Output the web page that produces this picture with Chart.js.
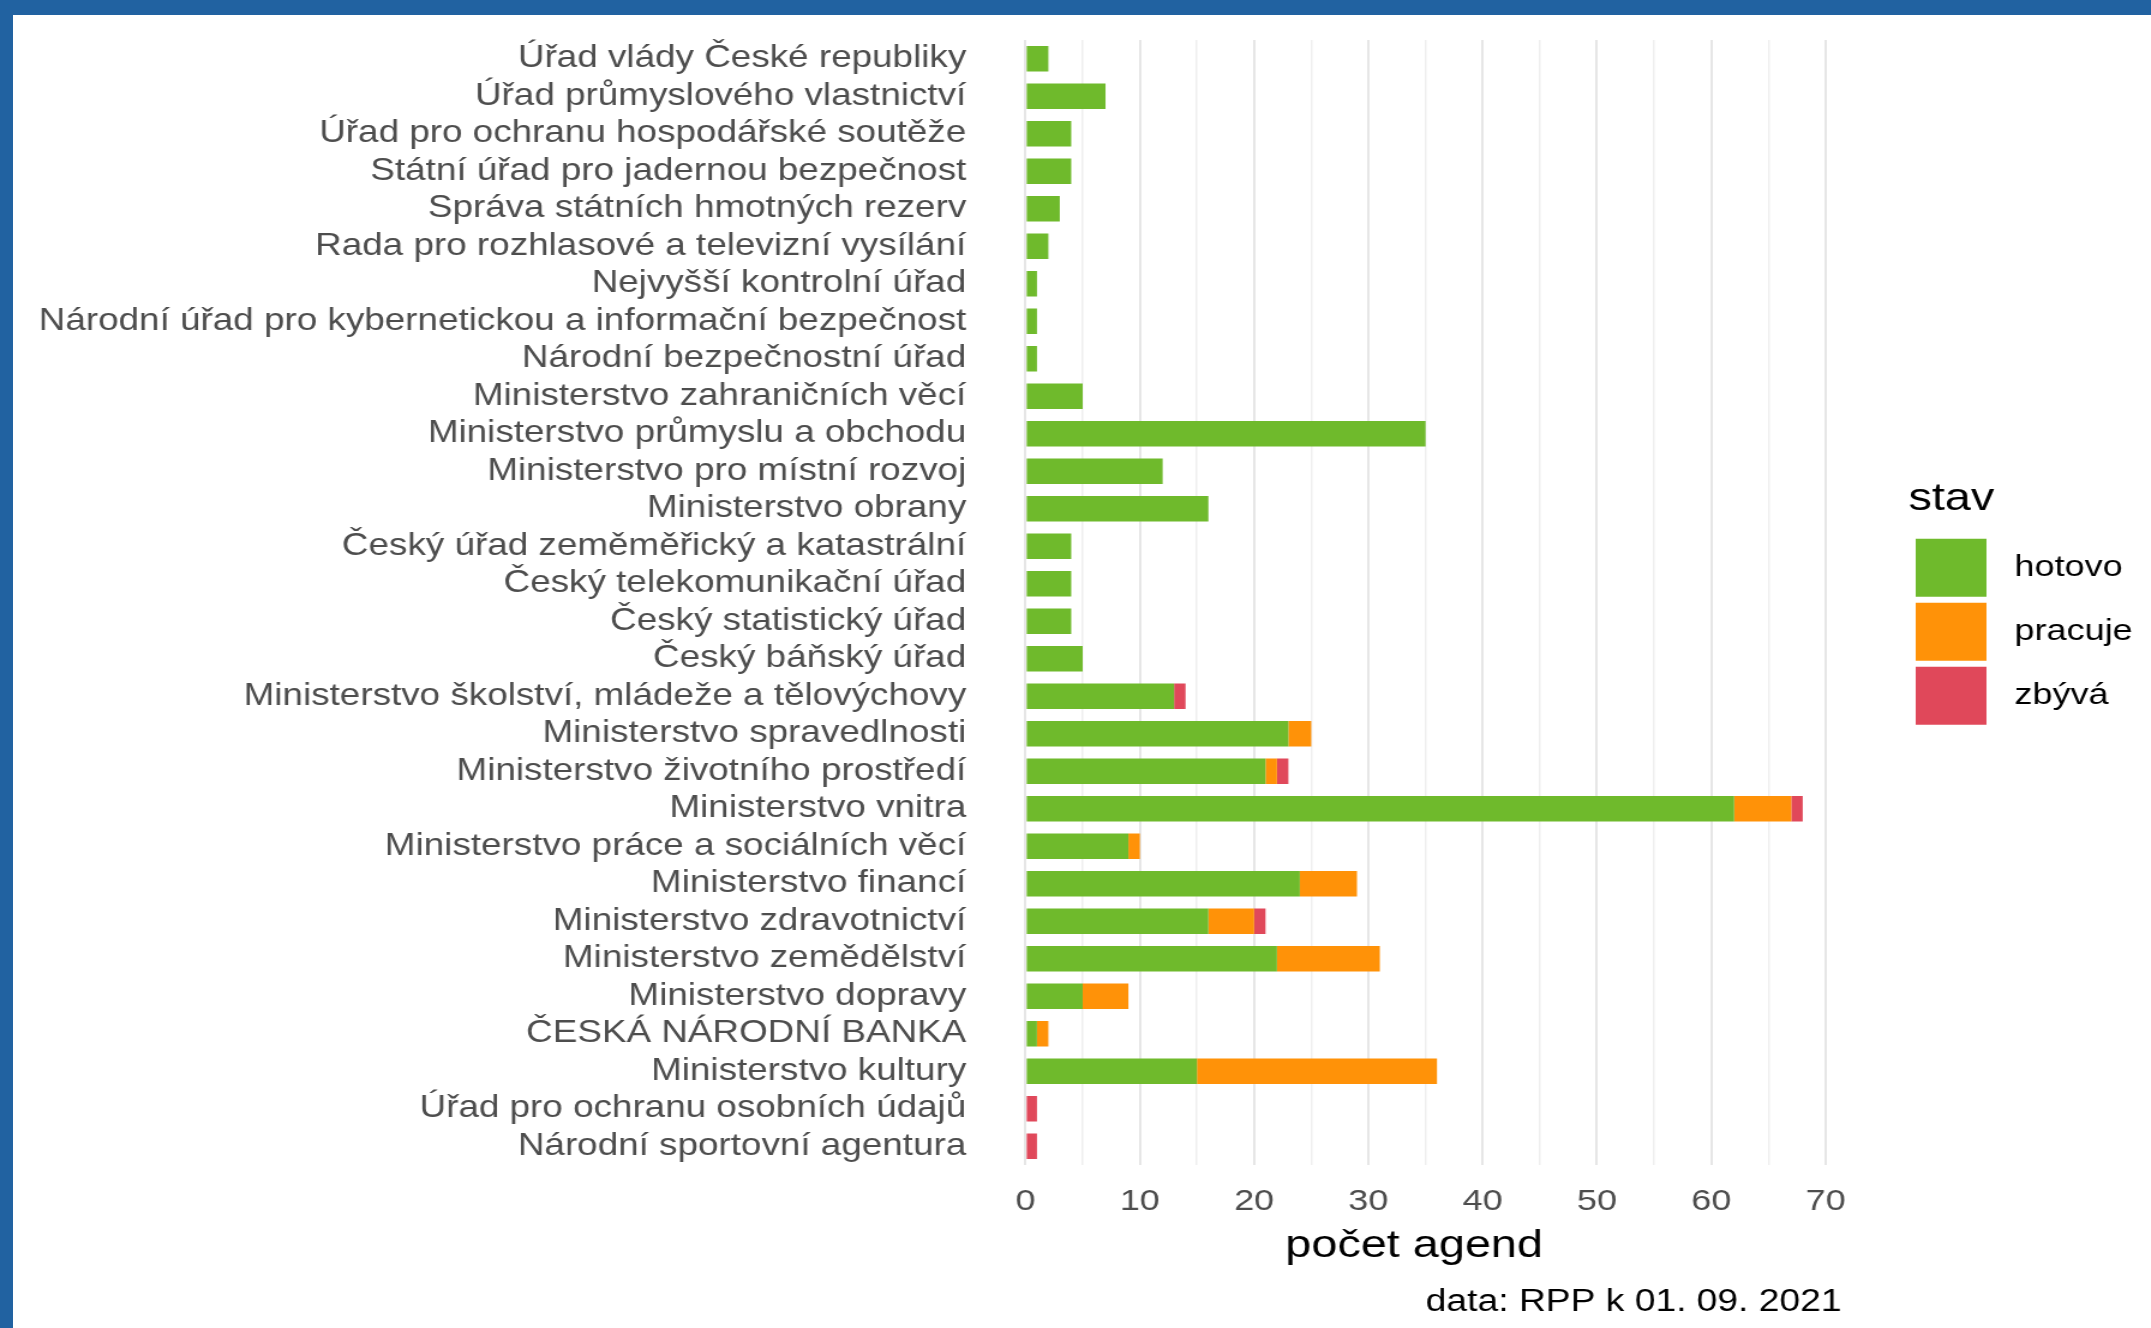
<!DOCTYPE html>
<html>
<head>
<meta charset="utf-8">
<script src="https://cdn.jsdelivr.net/npm/chart.js@4.4.0/dist/chart.umd.min.js"></script>
<style>
    html, body { margin: 0; padding: 0; background: #fff; overflow: hidden; }
    #wrap { position: absolute; left: 0; top: 0; width: 1792px; height: 1328px; transform: scaleX(1.2003); transform-origin: 0 0; }
    .band { position: absolute; background: #2162a1; z-index: 2; }
</style>
</head>
<body>
<div id="wrap"><canvas id="chart"></canvas></div>
<div class="band" style="left:0;top:0;width:2151px;height:15px"></div>
<div class="band" style="left:0;top:0;width:13px;height:1328px"></div>
<script>
// úřady, shora dolů
const agencies = [
    "Úřad vlády České republiky",
    "Úřad průmyslového vlastnictví",
    "Úřad pro ochranu hospodářské soutěže",
    "Státní úřad pro jadernou bezpečnost",
    "Správa státních hmotných rezerv",
    "Rada pro rozhlasové a televizní vysílání",
    "Nejvyšší kontrolní úřad",
    "Národní úřad pro kybernetickou a informační bezpečnost",
    "Národní bezpečnostní úřad",
    "Ministerstvo zahraničních věcí",
    "Ministerstvo průmyslu a obchodu",
    "Ministerstvo pro místní rozvoj",
    "Ministerstvo obrany",
    "Český úřad zeměměřický a katastrální",
    "Český telekomunikační úřad",
    "Český statistický úřad",
    "Český báňský úřad",
    "Ministerstvo školství, mládeže a tělovýchovy",
    "Ministerstvo spravedlnosti",
    "Ministerstvo životního prostředí",
    "Ministerstvo vnitra",
    "Ministerstvo práce a sociálních věcí",
    "Ministerstvo financí",
    "Ministerstvo zdravotnictví",
    "Ministerstvo zemědělství",
    "Ministerstvo dopravy",
    "ČESKÁ NÁRODNÍ BANKA",
    "Ministerstvo kultury",
    "Úřad pro ochranu osobních údajů",
    "Národní sportovní agentura"
];

const hotovo  = [2, 7, 4, 4, 3, 2, 1, 1, 1, 5, 35, 12, 16, 4, 4, 4, 5, 13, 23, 21, 62, 9, 24, 16, 22, 5, 1, 15, 0, 0];
const pracuje = [0, 0, 0, 0, 0, 0, 0, 0, 0, 0, 0, 0, 0, 0, 0, 0, 0, 0, 2, 1, 5, 1, 5, 4, 9, 4, 1, 21, 0, 0];
const zbyva   = [0, 0, 0, 0, 0, 0, 0, 0, 0, 0, 0, 0, 0, 0, 0, 0, 0, 1, 0, 1, 1, 0, 0, 1, 0, 0, 0, 0, 1, 1];

const seriesNames = ["hotovo", "pracuje", "zbývá"];
const seriesColors = ["#6fba2c", "#ff9208", "#e0485a"];

// svislé mřížky po 5, popisky po 10
const gridValues = [0, 5, 10, 15, 20, 25, 30, 35, 40, 45, 50, 55, 60, 65, 70];
const tickLabels = [0, 10, 20, 30, 40, 50, 60, 70];

Chart.defaults.font.family = '"Liberation Sans", Arial, sans-serif';

//legenda vpravo, posunutá na místo
const legendPlace = {
    id: "legendPlace",
    afterLayout(chart) {
        const lg = chart.legend;
        const w = lg.width, h = lg.height;
        lg.left = 1590; lg.right = 1590 + w;
        lg.top = 480; lg.bottom = 480 + h;
    }
};

const isMajor = (v) => tickLabels.includes(v);

new Chart(document.getElementById("chart"), {
    type: "bar",
    data: {
        labels: agencies,
        datasets: [
            { label: seriesNames[0], data: hotovo, backgroundColor: seriesColors[0] },
            { label: seriesNames[1], data: pracuje, backgroundColor: seriesColors[1] },
            { label: seriesNames[2], data: zbyva, backgroundColor: seriesColors[2] }
        ]
    },
    options: {
        responsive: true,
        maintainAspectRatio: false,
        animation: false,
        indexAxis: "y",
        layout: { padding: { top: 40, right: 61, bottom: 0, left: 0 } },
        datasets: { bar: { categoryPercentage: 1, barPercentage: 0.68, borderWidth: 0 } },
        scales: {
            x: {
                stacked: true,
                min: -3.4,
                max: 71.4,
                afterBuildTicks: (s) => { s.ticks = gridValues.map((v) => ({ value: v })); },
                grid: {
                    drawTicks: false,
                    color: (c) => (c.tick && isMajor(c.tick.value) ? "#e6e6e6" : "#efefef"),
                    lineWidth: (c) => (c.tick && isMajor(c.tick.value) ? 2 : 1.5)
                },
                border: { display: false },
                ticks: {
                    padding: 19,
                    color: "#4d4d4d",
                    font: { size: 30 },
                    maxRotation: 0,
                    autoSkip: false,
                    callback: (v) => (isMajor(v) ? String(v) : "")
                },
                title: {
                    display: true,
                    text: "počet agend",
                    color: "#000",
                    font: { size: 39 },
                    padding: { top: -16, bottom: 11 }
                }
            },
            y: {
                stacked: true,
                grid: { display: false },
                border: { display: false },
                ticks: { color: "#4d4d4d", font: { size: 30.7 }, padding: 9, autoSkip: false },
                afterFit: (s) => { s.width = 822; }
            }
        },
        plugins: {
            legend: {
                position: "right",
                align: "start",
                title: {
                    display: true,
                    text: "stav",
                    position: "start",
                    color: "#000",
                    font: { size: 39 },
                    padding: { top: 0, bottom: 6 }
                },
                labels: {
                    boxWidth: 59,
                    boxHeight: 58,
                    padding: 6,
                    color: "#000",
                    font: { size: 30 },
                    generateLabels: (chart) =>
                        Chart.defaults.plugins.legend.labels.generateLabels(chart).map((it) => ({ ...it, text: " " + it.text }))
                }
            },
            subtitle: {
                display: true,
                position: "bottom",
                align: "end",
                fullSize: false,
                text: "data: RPP k 01. 09. 2021",
                color: "#000",
                font: { size: 31, weight: "normal" },
                padding: { top: 3, bottom: 7 }
            },
            tooltip: { enabled: false }
        }
    },
    plugins: [legendPlace]
});
</script>
</body>
</html>
